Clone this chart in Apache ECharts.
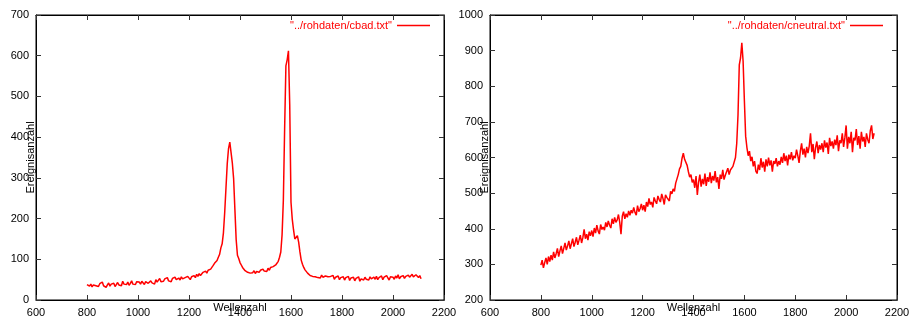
<!DOCTYPE html>
<html>
<head>
<meta charset="utf-8">
<script src="https://cdn.jsdelivr.net/npm/echarts@6/dist/echarts.min.js"></script>
<style>html,body{margin:0;padding:0;background:#fff}#c{width:910px;height:320px}</style>
</head>
<body>
<div id="c"></div>
<script>
// Sampling grid of wavenumbers (Wellenzahl)
const waveStart = 800;
const waveStep = 5;

const nameLeft = '"../rohdaten/cbad.txt"';
const nameRight = '"../rohdaten/cneutral.txt"';
const xAxisName = 'Wellenzahl';
const yAxisName = 'Ereignisanzahl';

// x axis ticks (both panels)
const xMin = 600, xMax = 2200, xInterval = 200;
// y axis ticks
const yLeftMin = 0, yLeftMax = 700, yLeftInterval = 100;
const yRightMin = 200, yRightMax = 1000, yRightInterval = 100;

// cbad.txt counts, 800..2110 step 5
const cbad = [
  38, 36, 34, 39, 32, 37, 41, 35, 38, 33,
  40, 36, 44, 35, 38, 31, 37, 42, 34, 39,
  36, 41, 33, 38, 43, 37, 40, 35, 46, 39,
  42, 38, 44, 36, 41, 47, 39, 43, 38, 45,
  41, 44, 39, 46, 42, 38, 45, 49, 41, 44,
  47, 42, 45, 39, 50, 44, 48, 53, 45, 49,
  46, 52, 48, 55, 47, 51, 45, 53, 49, 56,
  50, 47, 54, 49, 57, 52, 48, 55, 51, 58,
  54, 50, 57, 53, 60, 55, 63, 58, 65, 60,
  62, 68, 64, 71, 66, 73, 70, 76, 80, 85,
  90, 86, 97, 105, 112, 128, 138, 165, 215, 275,
  335, 372, 388, 362, 336, 298, 222, 148, 110, 102,
  92, 86, 80, 76, 72, 74, 68, 71, 66, 70,
  67, 72, 65, 70, 74, 68, 73, 69, 76, 71,
  75, 70, 78, 73, 80, 76, 82, 78, 86, 84,
  95, 105, 118, 160, 245, 420, 575, 590, 612, 480,
  240, 198, 172, 150, 152, 158, 142, 118, 98, 88,
  80, 74, 70, 66, 64, 60, 63, 58, 61, 57,
  60, 55, 58, 54, 61, 56, 52, 59, 55, 57,
  53, 58, 54, 60, 51, 56, 53, 59, 50, 55,
  52, 57, 49, 55, 51, 58, 48, 54, 50, 56,
  47, 53, 50, 57, 46, 52, 55, 49, 56, 51,
  54, 49, 57, 52, 48, 56, 51, 58, 50, 55,
  53, 59, 50, 56, 52, 60, 54, 49, 57, 53,
  56, 51, 59, 54, 62, 52, 57, 55, 60, 53,
  58, 54, 61, 56, 52, 63, 57, 55, 62, 58,
  55, 60, 52
];

// cneutral.txt counts, 800..2110 step 5
const cneutral = [
  298, 312, 290, 305, 318, 300, 322, 308, 326, 312,
  335, 318, 330, 345, 322, 338, 352, 330, 345, 360,
  340, 352, 366, 344, 358, 372, 350, 362, 376, 355,
  368, 382, 360, 375, 398, 372, 385, 368, 392, 380,
  395, 378, 402, 388, 410, 394, 385, 412, 398, 405,
  396, 418, 405, 422, 410, 402, 428, 414, 432, 418,
  425, 440, 418, 385, 435, 448, 428, 442, 432, 450,
  438, 452, 444, 460, 446, 438, 465, 448, 456, 470,
  452, 466, 448, 475, 462, 485, 468, 475, 460, 488,
  478, 470, 492, 482, 475, 498, 485, 468, 495, 488,
  492, 478, 505, 498, 512, 505, 528, 540, 552, 568,
  575, 598, 612, 595, 600, 578, 560, 545, 552, 530,
  538, 515, 548, 495, 530, 552, 518, 540, 525, 555,
  520, 545, 532, 558, 528, 548, 535, 562, 530, 545,
  512, 552, 540, 565, 538, 550, 545, 570, 552, 565,
  560, 575, 580, 600, 640, 720, 860, 880, 922, 870,
  760, 660, 628, 605, 618, 590, 602, 575, 590, 562,
  555, 580, 565, 598, 572, 588, 560, 595, 575, 600,
  578, 592, 560, 590, 582, 598, 575, 590, 580, 602,
  585, 612, 590, 605, 578, 608, 595, 615, 592, 605,
  598, 622, 605, 585, 618, 640, 608, 625, 600, 630,
  612, 632, 668, 615, 638, 595, 628, 645, 612, 635,
  622, 640, 615, 648, 628, 642, 610, 655, 632, 645,
  625, 650, 635, 662, 618, 648, 640, 668, 630, 655,
  690, 625, 658, 640, 672, 615, 655, 648, 680, 635,
  660, 625, 672, 645, 658, 630, 668, 650, 640, 675,
  690, 652, 668
];

function pairs(vals) {
  return vals.map((v, i) => [waveStart + i * waveStep, v]);
}

const FONT = 'Liberation Sans, Arial, sans-serif';
const tickStyle = { show: true, inside: true, length: 5, lineStyle: { color: '#333', width: 1 } };
const lineStyle = { show: true, onZero: false, lineStyle: { color: '#000', width: 1 } };
const plain = v => String(v);

function xAxes(gridIndex) {
  return [
    {
      type: 'value', gridIndex, position: 'bottom', min: xMin, max: xMax, interval: xInterval,
      axisLine: lineStyle, axisTick: tickStyle, splitLine: { show: false },
      axisLabel: { color: '#000', fontSize: 11, fontFamily: FONT, margin: 7, formatter: plain, hideOverlap: false },
      name: xAxisName, nameLocation: 'middle', nameGap: 2, nameMoveOverlap: false,
      nameTextStyle: { color: '#000', fontSize: 11, fontFamily: FONT }
    },
    {
      type: 'value', gridIndex, position: 'top', min: xMin, max: xMax, interval: xInterval,
      axisLine: lineStyle, axisTick: tickStyle, splitLine: { show: false },
      axisLabel: { show: false }
    }
  ];
}
function yAxes(gridIndex, min, max, interval) {
  return [
    {
      type: 'value', gridIndex, position: 'left', min, max, interval,
      axisLine: lineStyle, axisTick: tickStyle, splitLine: { show: false },
      axisLabel: { color: '#000', fontSize: 11, fontFamily: FONT, margin: 7, formatter: plain },
      name: yAxisName, nameLocation: 'middle', nameRotate: 90, nameGap: 0, nameMoveOverlap: false,
      nameTextStyle: { color: '#000', fontSize: 11, fontFamily: FONT }
    },
    {
      type: 'value', gridIndex, position: 'right', min, max, interval,
      axisLine: lineStyle, axisTick: tickStyle, splitLine: { show: false },
      axisLabel: { show: false }
    }
  ];
}

const chart = echarts.init(document.getElementById('c'));
chart.setOption({
  animation: false,
  backgroundColor: '#fff',
  textStyle: { fontFamily: FONT },
  grid: [
    { left: 36, top: 15, width: 408, height: 285, outerBoundsMode: 'none', containLabel: false,
      show: true, borderColor: '#000', borderWidth: 1, backgroundColor: 'transparent' },
    { left: 490, top: 15, width: 407, height: 285, outerBoundsMode: 'none', containLabel: false,
      show: true, borderColor: '#000', borderWidth: 1, backgroundColor: 'transparent' }
  ],
  xAxis: [...xAxes(0), ...xAxes(1)],
  yAxis: [...yAxes(0, yLeftMin, yLeftMax, yLeftInterval), ...yAxes(1, yRightMin, yRightMax, yRightInterval)],
  legend: [
    {
      data: [nameLeft], right: 480, top: 20, padding: 0, align: 'right',
      icon: 'rect', itemWidth: 33, itemHeight: 1.5, selectedMode: false,
      textStyle: { color: '#ff0000', fontSize: 11, fontFamily: FONT }
    },
    {
      data: [nameRight], right: 27, top: 20, padding: 0, align: 'right',
      icon: 'rect', itemWidth: 33, itemHeight: 1.5, selectedMode: false,
      textStyle: { color: '#ff0000', fontSize: 11, fontFamily: FONT }
    }
  ],
  series: [
    {
      name: nameLeft, type: 'line', xAxisIndex: 0, yAxisIndex: 0,
      data: pairs(cbad), showSymbol: false, symbol: 'none',
      lineStyle: { color: '#ff0000', width: 1.5 }, itemStyle: { color: '#ff0000' }
    },
    {
      name: nameRight, type: 'line', xAxisIndex: 2, yAxisIndex: 2,
      data: pairs(cneutral), showSymbol: false, symbol: 'none',
      lineStyle: { color: '#ff0000', width: 1.5 }, itemStyle: { color: '#ff0000' }
    }
  ]
});
</script>
</body>
</html>
